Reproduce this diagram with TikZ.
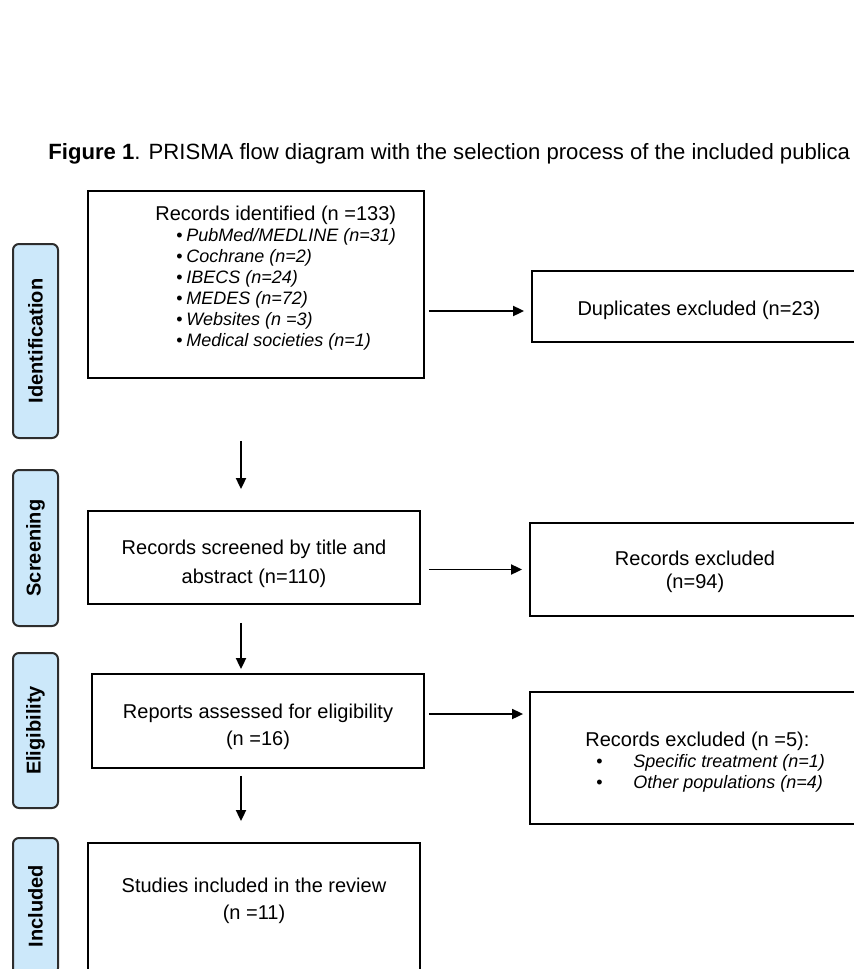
\documentclass[tikz,border=0pt]{standalone}
\usepackage{fontspec}
\setmainfont{Liberation Sans}
\usetikzlibrary{arrows.meta}
\definecolor{phasefill}{RGB}{204,232,250}
\definecolor{phaseline}{RGB}{45,45,45}
\newcommand{\srcitem}[1]{\hspace*{10.5pt}\makebox[5pt][l]{\textbullet}\textit{#1}}
\newcommand{\whyitem}[1]{\hspace*{5.5pt}\makebox[18.5pt][l]{\textbullet}\textit{#1}}

\begin{document}
\begin{tikzpicture}[x=0.5pt,y=-0.5pt,
	box/.style={draw,line width=0.9pt,inner sep=0pt},
	phase/.style={draw=phaseline,fill=phasefill,line width=1pt,rounded corners=3pt,
		rotate=90,minimum height=22.5pt,inner sep=0pt,font=\bfseries},
	txt/.style={inner sep=0pt,align=center,font=\fontsize{10}{13.5}\selectfont},
	arr/.style={line width=0.9pt,-{Triangle[length=5.5pt,width=5pt]}}]
	\useasboundingbox (0,0) rectangle (853,969);
	
	\node[anchor=base west,inner sep=0pt,font=\fontsize{11.05}{13}\selectfont] (title) at (48,159)
		{\textbf{Figure 1}. PRISMA flow diagram with the selection process of the included publica};
	
	% phases
	\node[phase,minimum width=97pt] (idlab) at (35.5,341) {Identification};
	\node[phase,minimum width=78pt] (sclab) at (35.5,548) {Screening};
	\node[phase,minimum width=77.5pt] (ellab) at (35.5,730.5) {Eligibility};
	\node[phase,minimum width=68pt] (inlab) at (35.5,906) {Included};
	
	% main column
	\node[box,minimum width=168pt,minimum height=93.5pt] (ident) at (256,284.5) {};
	\node[box,minimum width=166pt,minimum height=46.5pt] (screen) at (254,557.5) {};
	\node[box,minimum width=166pt,minimum height=47pt] (elig) at (258,721) {};
	\node[box,minimum width=166pt,minimum height=80pt] (incl) at (254,923) {};
	
	% excluded column
	\node[box,minimum width=166pt,minimum height=35.5pt] (dup) at (698,306.5) {};
	\node[box,minimum width=166pt,minimum height=46.5pt] (excl1) at (696,569.5) {};
	\node[box,minimum width=166pt,minimum height=66pt] (excl2) at (696,758) {};
	
	% texts
	\node[anchor=north west,inner sep=0pt,align=left,font=\fontsize{10}{10.5}\selectfont] (identtxt) at (155,206)
		{Records identified (n =133)\\
		\fontsize{9}{10.3}\selectfont\srcitem{PubMed/MEDLINE (n=31)}\\
		\fontsize{9}{10.3}\selectfont\srcitem{Cochrane (n=2)}\\
		\fontsize{9}{10.3}\selectfont\srcitem{IBECS (n=24)}\\
		\fontsize{9}{10.3}\selectfont\srcitem{MEDES (n=72)}\\
		\fontsize{9}{10.3}\selectfont\srcitem{Websites (n =3)}\\
		\fontsize{9}{10.3}\selectfont\srcitem{Medical societies (n=1)}};
	\node[txt] (duptxt) at (699,310) {Duplicates excluded (n=23)};
	\node[txt,font=\fontsize{10}{14.5}\selectfont] (screentxt) at (254,564) {Records screened by title and\\abstract (n=110)};
	\node[txt,font=\fontsize{10}{11.5}\selectfont] (excl1txt) at (695,571.5) {Records excluded\\(n=94)};
	\node[txt] (eligtxt) at (258,726.5) {Reports assessed for eligibility\\(n =16)};
	\node[anchor=north west,inner sep=0pt,align=left,font=\fontsize{10}{10.5}\selectfont] (excl2txt) at (585,731.5)
		{Records excluded (n =5):\\
		\fontsize{9}{10.5}\selectfont\whyitem{Specific treatment (n=1)}\\
		\fontsize{9}{10.5}\selectfont\whyitem{Other populations (n=4)}};
	\node[txt] (incltxt) at (254,900.5) {Studies included in the review\\(n =11)};
	
	% connectors
	\coordinate (col) at (241,0);
	\coordinate (row1) at (0,311);
	\coordinate (row3) at (0,714);
	\draw[arr,shorten <=2pt,shorten >=3.5pt] (ident.east |- row1) -- (dup.west |- row1);
	\draw[arr,shorten <=4pt,shorten >=3.5pt] (screen.east |- excl1.west) -- (excl1.west);
	\draw[arr,shorten <=2pt,shorten >=3pt] (elig.east |- row3) -- (excl2.west |- row3);
	\draw[arr,shorten <=31pt,shorten >=10.5pt] (ident.south -| col) -- (screen.north -| col);
	\draw[arr,shorten <=9pt,shorten >=2pt] (screen.south -| col) -- (elig.north -| col);
	\draw[arr,shorten <=3.5pt,shorten >=10.5pt] (elig.south -| col) -- (incl.north -| col);
\end{tikzpicture}
\end{document}
